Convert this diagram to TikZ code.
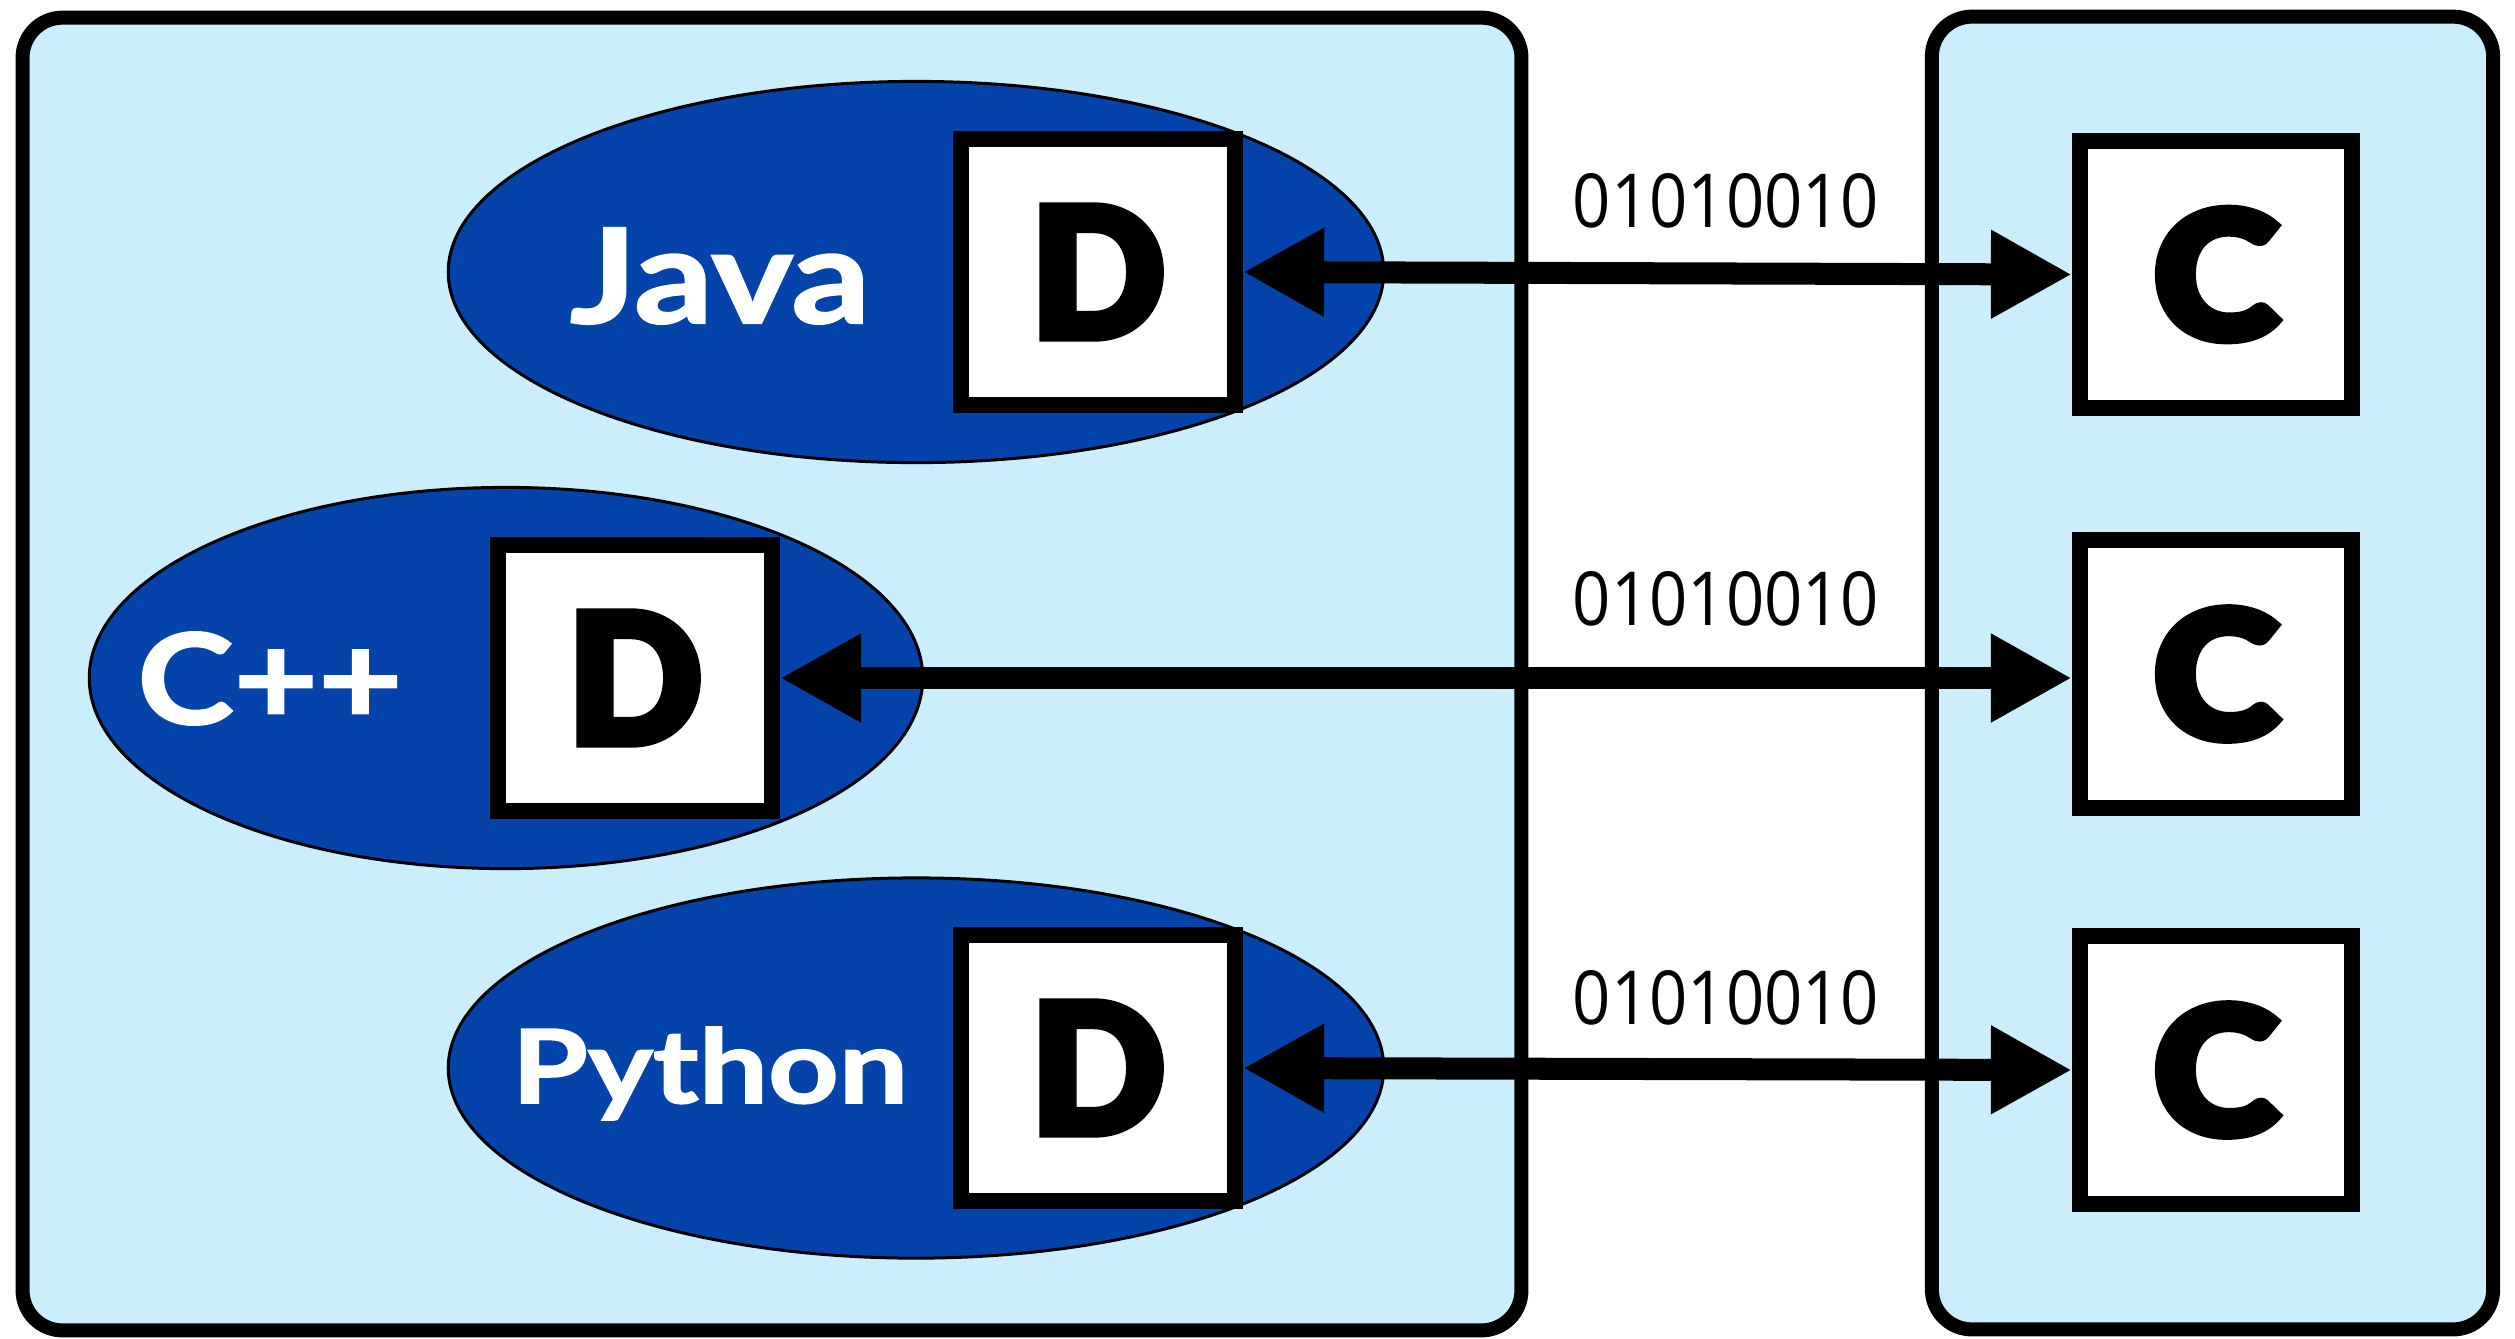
\documentclass[tikz,border=0pt]{standalone}
\usepackage{fontspec}
\usepackage{graphicx}
\usetikzlibrary{arrows.meta,shapes.geometric}
\newfontfamily\labfont{Lato}[BoldFeatures={FakeBold=1.5}]
\IfFontExistsTF{Lato Black}{\newfontfamily\heavyfont{Lato Black}[FakeBold=4]\newcommand\heavy{\heavyfont}}{\newfontfamily\heavyfont{Lato}[FakeBold=5]\newcommand\heavy{\heavyfont\bfseries}}
\newfontfamily\bitfont{Open Sans}
\definecolor{lb}{RGB}{202,238,252}
\definecolor{db}{RGB}{3,67,170}
\newcommand\dletter{\resizebox{1.35cm}{1.32cm}{\heavy D}}
\newcommand\cletter{\resizebox{1.26cm}{1.31cm}{\heavy C}}
\newcommand\bitstr{\resizebox{3.06cm}{0.54cm}{\bitfont 01010010}}
\begin{document}
\begin{tikzpicture}[x=0.01cm,y=-0.01cm,
  panel/.style={draw=black, line width=0.14cm, fill=lb, rounded corners=0.4cm, inner sep=0},
  lang/.style={ellipse, draw=black, line width=0.03cm, fill=db, inner sep=0},
  letterbox/.style={draw=black, fill=white, line width=0.16cm, minimum width=2.74cm, minimum height=2.66cm, inner sep=0},
  cbox/.style={letterbox, minimum width=2.72cm, minimum height=2.67cm},
  langlabel/.style={text=white, inner sep=0, anchor=base},
  bits/.style={inner sep=0, anchor=base},
  link/.style={line width=0.22cm, {Triangle[length=0.81cm,width=0.83cm]}-{Triangle[length=0.81cm,width=0.83cm]}}]
\useasboundingbox (0,0) rectangle (2515,1338);
% panels
\node[panel, minimum width=14.98cm, minimum height=13.12cm] (host) at (772,674) {};
\node[panel, minimum width=5.61cm, minimum height=13.12cm] (client) at (2212.5,673) {};
% language ellipses
\node[lang, minimum width=9.35cm, minimum height=3.81cm] (ej) at (916,272) {};
\node[lang, minimum width=8.33cm, minimum height=3.81cm] (ec) at (506,678) {};
\node[lang, minimum width=9.35cm, minimum height=3.80cm] (ep) at (916,1068) {};
% D boxes
\node[letterbox] (dj) at (1098,272) {\dletter};
\node[letterbox] (dc) at (635,678) {\dletter};
\node[letterbox] (dp) at (1098,1068) {\dletter};
% C boxes
\node[cbox] (cj) at (2216,274.5) {\cletter};
\node[cbox] (cc) at (2216,674) {\cletter};
\node[cbox] (cp) at (2216,1070) {\cletter};
% language labels
\node[langlabel] (lj) at (720,323) {\resizebox{3.0cm}{0.95cm}{\labfont\bfseries Java}};
\node[langlabel] (lc) at (270,724) {\resizebox{2.65cm}{0.92cm}{\labfont\bfseries C++}};
\node[langlabel] (lp) at (710,1103) {\resizebox{3.96cm}{0.76cm}{\labfont\bfseries Python}};
% bit strings
\node[bits] (b1) at (1726,227) {\bitstr};
\node[bits] (b2) at (1726,625) {\bitstr};
\node[bits] (b3) at (1726,1024) {\bitstr};
% connectors
\draw[link] (dj.east) -- (cj.west);
\draw[link] (dc.east) -- (dc.east -| cc.west);
\draw[link] (dp.east) -- (cp.west);
\end{tikzpicture}
\end{document}
